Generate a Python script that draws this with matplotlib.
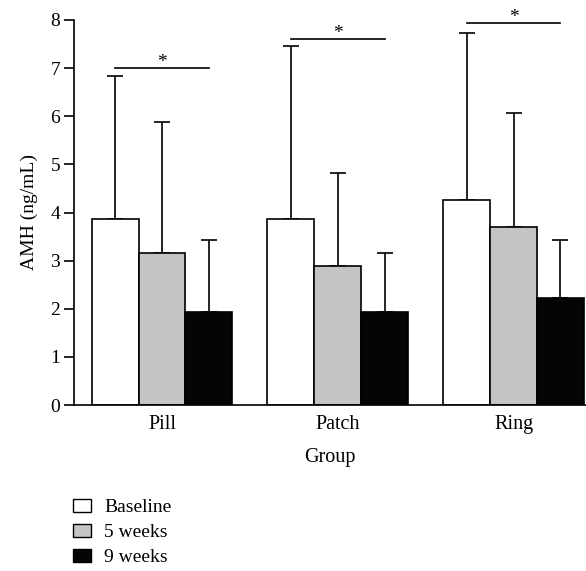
import matplotlib
matplotlib.use("Agg")
import matplotlib.pyplot as plt
import numpy as np
from matplotlib.patches import Patch

plt.rcParams['font.family'] = ['Liberation Serif', 'DejaVu Serif']

groups = ["Pill", "Patch", "Ring"]
series = ["Baseline", "5 weeks", "9 weeks"]
baseline = [3.86, 3.86, 4.26]
weeks5 = [3.15, 2.88, 3.69]
weeks9 = [1.94, 1.94, 2.23]
baseline_err = [2.97, 3.60, 3.47]
weeks5_err = [2.74, 1.94, 2.38]
weeks9_err = [1.48, 1.21, 1.19]
sig_y = [7.0, 7.6, 7.93]
colors = ["#ffffff", "#c4c4c4", "#050505"]

fig = plt.figure(figsize=(5.86, 5.71), dpi=100)
ax = fig.add_axes([74/586, 1-405/571, 1-74/586, (405-20)/571])

x = np.arange(len(groups))
w = 0.267
vals = [baseline, weeks5, weeks9]
errs = [baseline_err, weeks5_err, weeks9_err]
for i, (v, e) in enumerate(zip(vals, errs)):
    xi = x + (i-1)*w
    ax.bar(xi, v, width=w, color=colors[i], edgecolor='black', linewidth=1.2, zorder=2)
    ax.errorbar(xi, v, yerr=[np.zeros(len(v)), e], fmt='none', ecolor='black',
                elinewidth=1.2, capsize=6, capthick=1.2, zorder=1)

for xi, yi in zip(x, sig_y):
    ax.plot([xi - w, xi + w], [yi, yi], color='black', lw=1.2, clip_on=False)
    ax.text(xi, yi - 0.06, "*", ha='center', va='bottom', fontsize=14)

ax.set_xlim(-0.5007, 2.4125)
ax.set_ylim(0, 8)
ax.set_yticks(range(0, 9))
ax.set_xticks(x)
ax.set_xticklabels(groups)
ax.tick_params(axis='x', length=0, labelsize=14.5, pad=7.5)
ax.tick_params(axis='y', length=7, width=1.2, labelsize=14, pad=3)
ax.spines['top'].set_visible(False)
ax.spines['right'].set_visible(False)
ax.spines['left'].set_linewidth(1.2)
ax.spines['bottom'].set_linewidth(1.2)
ax.set_ylabel("AMH (ng/mL)", fontsize=14, labelpad=9)
ax.set_xlabel("Group", fontsize=14.5, labelpad=10)

handles = [Patch(facecolor=c, edgecolor='black', linewidth=1.0) for c in colors]
fig.legend(handles, series, loc='upper left', bbox_to_anchor=(73/586, 1-499/571),
           frameon=False, fontsize=14, borderpad=0, borderaxespad=0,
           handlelength=0.93, handleheight=0.67, handletextpad=0.67, labelspacing=0.39)

fig.savefig("out.png", dpi=100)
